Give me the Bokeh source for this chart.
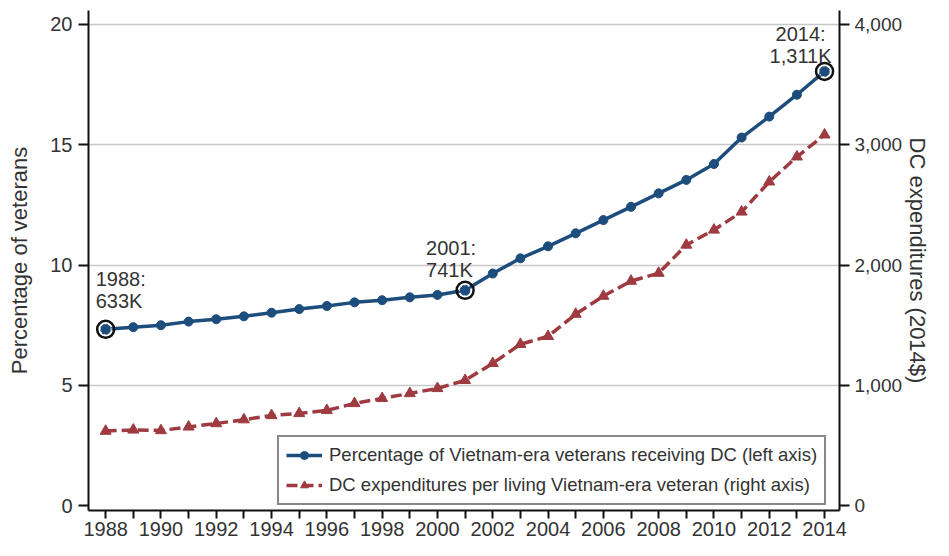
from bokeh.plotting import figure
from bokeh.models import Range1d, LinearAxis, FixedTicker, Legend, LegendItem, NumeralTickFormatter
from bokeh.core.properties import value
from bokeh.embed import file_html
from bokeh.resources import INLINE

# ---- data ----
years = list(range(1988, 2015))
pct_receiving_dc = [7.33, 7.42, 7.50, 7.65, 7.75, 7.87, 8.02, 8.17, 8.30, 8.45,
                    8.54, 8.66, 8.76, 8.95, 9.65, 10.28, 10.78, 11.32, 11.87, 12.42,
                    12.98, 13.54, 14.20, 15.30, 16.17, 17.08, 18.05]
dc_expend_per_vet = [620, 630, 625, 655, 683, 715, 750, 767, 792, 850,
                     892, 933, 975, 1042, 1183, 1342, 1408, 1592, 1742, 1867,
                     1933, 2167, 2292, 2442, 2692, 2900, 3083]
left_ticks = [0, 5, 10, 15, 20]
right_ticks = [0, 1000, 2000, 3000, 4000]
ann_years = [1988, 2001, 2014]
ann_labels = ["1988:\n633K", "2001:\n741K", "2014:\n1,311K"]
ann_pct = [pct_receiving_dc[years.index(y)] for y in ann_years]
series_labels = ["Percentage of Vietnam-era veterans receiving DC (left axis)",
                 "DC expenditures per living Vietnam-era veteran (right axis)"]

# ---- styling ----
FONT = "Liberation Sans"
BLUE = "#1c4d7c"
RED = "#9e3a40"
TXT = "#333333"
DOLLARS_PER_PCT = 200.0
y_lo, y_hi = -0.2, 20.58

p = figure(width=933, height=540,
           x_range=Range1d(1987.38, 2014.54), y_range=Range1d(y_lo, y_hi),
           output_backend="svg", toolbar_location=None,
           min_border_left=88, min_border_right=94, min_border_top=10, min_border_bottom=30)
p.outline_line_color = None
p.background_fill_color = "white"
p.border_fill_color = "white"
p.extra_y_ranges = {"dollars": Range1d(y_lo * DOLLARS_PER_PCT, y_hi * DOLLARS_PER_PCT)}

p.xgrid.visible = False
p.ygrid.ticker = FixedTicker(ticks=left_ticks[1:])
p.ygrid.grid_line_color = "#c8c8c8"
p.ygrid.grid_line_width = 1.6


def style_axis(ax, tick_len, standoff, size="20px"):
    ax.axis_line_color = "#111111"
    ax.axis_line_width = 2
    ax.major_tick_line_color = "#111111"
    ax.major_tick_line_width = 2
    ax.major_tick_out = tick_len
    ax.major_tick_in = 0
    ax.minor_tick_line_color = None
    ax.major_label_text_font = FONT
    ax.major_label_text_font_size = size
    ax.major_label_text_color = TXT
    ax.major_label_standoff = standoff
    ax.axis_label_text_font = FONT
    ax.axis_label_text_font_size = "22px"
    ax.axis_label_text_font_style = "normal"
    ax.axis_label_text_color = TXT


# x axis
xa = p.xaxis[0]
xa.ticker = FixedTicker(ticks=years)
xa.major_label_overrides = {y: ("" if y % 2 else str(y)) for y in years}
style_axis(xa, 8, 3)

# left axis
ya = p.yaxis[0]
ya.ticker = FixedTicker(ticks=left_ticks)
ya.axis_label = "Percentage of veterans"
style_axis(ya, 10, 6)
ya.axis_label_standoff = 15

# right axis
ra = LinearAxis(y_range_name="dollars", axis_label="DC expenditures (2014$)")
ra.ticker = FixedTicker(ticks=right_ticks)
ra.formatter = NumeralTickFormatter(format="0,0")
style_axis(ra, 10, 5, "19px")
ra.axis_label_standoff = 0
p.add_layout(ra, "right")

# series: red (right axis)
r_line = p.line(years, dc_expend_per_vet, y_range_name="dollars",
                line_color=RED, line_width=3.5, line_dash="11 5")
r_pts = p.scatter(years, dc_expend_per_vet, y_range_name="dollars", marker="triangle",
                  size=11, fill_color=RED, line_color=RED)

# series: blue (left axis)
b_line = p.line(years, pct_receiving_dc, line_color=BLUE, line_width=3.5)
b_pts = p.scatter(years, pct_receiving_dc, marker="circle", size=9,
                  fill_color=BLUE, line_color=BLUE)

# highlighted points
p.scatter(ann_years, ann_pct, marker="circle", size=17, fill_color=None,
          line_color="#111111", line_width=2.5)
p.scatter(ann_years, ann_pct, marker="circle", size=11, fill_color=BLUE,
          line_color="white", line_width=1, line_dash="2 2")

# annotations
offsets = [(-10, -17, "left"), (-39, -9, "left"), (-24, -4, "center")]
for (yr, pv, lab), (dx, dy, al) in zip(zip(ann_years, ann_pct, ann_labels), offsets):
    p.text([yr], [pv], text=[lab], x_offset=dx, y_offset=dy,
           text_align=al, text_baseline="bottom",
           text_font=value(FONT), text_font_size="20px", text_color=TXT,
           text_line_height=1.0)

legend = Legend(items=[LegendItem(label=series_labels[0], renderers=[b_line, b_pts]),
                       LegendItem(label=series_labels[1], renderers=[r_line, r_pts])],
                location=(189, 5))
legend.border_line_color = "#111111"
legend.border_line_width = 2
legend.background_fill_color = "white"
legend.background_fill_alpha = 1
legend.label_text_font = FONT
legend.label_text_font_size = "18.5px"
legend.label_text_color = TXT
legend.glyph_width = 36
legend.glyph_height = 20
legend.label_standoff = 7
legend.label_height = 21
legend.padding = 7
legend.spacing = 8
legend.margin = 0
p.add_layout(legend)

open("out.html", "w").write(file_html(p, INLINE))
